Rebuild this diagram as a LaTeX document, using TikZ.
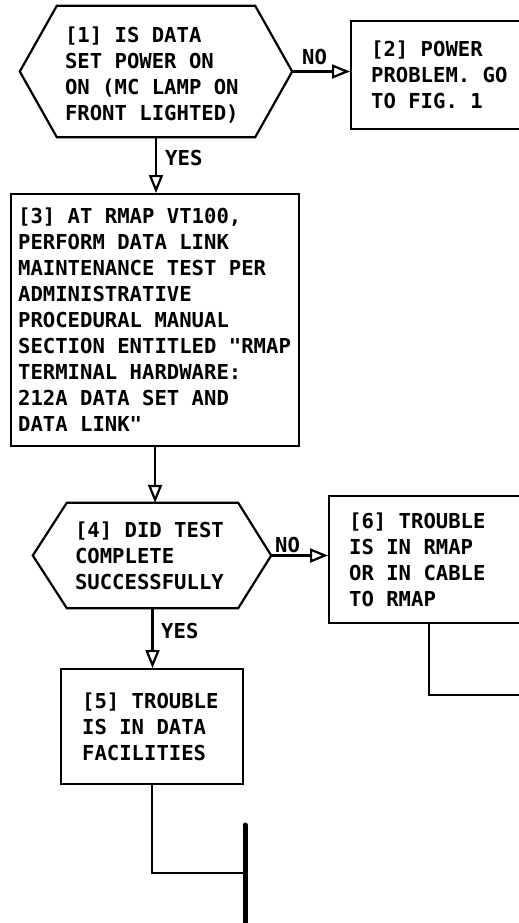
\documentclass[tikz,border=0pt]{standalone}
\usepackage{fontspec}
\newfontfamily\flowfont{DejaVu Sans Mono}
\newcommand{\chartfont}{\flowfont\bfseries\fontsize{20.6}{26}\selectfont}
\usetikzlibrary{positioning, arrows.meta, calc}

\begin{document}
\begin{tikzpicture}[x=1pt, y=-1pt,
    every node/.append style={execute at begin node={\spaceskip=0pt\xspaceskip=0pt}},
    decision/.style={rectangle, inner ysep=0pt, inner xsep=8pt, align=left, font=\chartfont},
    stepbox/.style={draw, rectangle, line width=2.2pt, inner ysep=0pt, align=left, font=\chartfont},
    answer/.style={font=\chartfont, inner sep=0pt, anchor=base west},
    flow/.style={line width=2.2pt, -{Triangle[open, length=18pt, width=14pt]}},
    wire/.style={line width=2.2pt}]

    % Page frame (boxes 2 and 6 run off the right edge)
    \useasboundingbox (0,0) rectangle (519,923);
    \clip (0,0) rectangle (519,923);

    % [1] Decision: data set power
    \node[decision, minimum width=198pt, minimum height=131pt, text width=182pt] (dataset) at (156,75)
        {[1] IS DATA\\SET POWER ON\\ON (MC LAMP ON\\FRONT LIGHTED)};
    \coordinate (datasetNW) at ([yshift=3.5pt]dataset.north west);
    \coordinate (datasetNE) at ([yshift=3.5pt]dataset.north east);
    \coordinate (datasetSW) at ([yshift=3.5pt]dataset.south west);
    \coordinate (datasetSE) at ([yshift=3.5pt]dataset.south east);
    \coordinate (datasetL) at ([xshift=-37pt, yshift=3.5pt]dataset.west);
    \coordinate (datasetR) at ([xshift=37pt, yshift=3.5pt]dataset.east);
    \draw[wire] (datasetNW) -- (datasetNE) -- (datasetR) -- (datasetSE)
        -- (datasetSW) -- (datasetL) -- cycle;

    % [2] Power problem
    \node[stepbox, anchor=north west, minimum width=200pt, minimum height=108pt, text width=160pt, inner xsep=20pt] (power) at (350,20)
        {[2] POWER\\PROBLEM. GO\\TO FIG. 1};
    \draw[flow] (datasetR) -- (datasetR -| power.west);
    \node[answer] (no1) at (302,65) {NO};

    % [3] Data link maintenance test
    \node[stepbox, anchor=north west, minimum width=288pt, minimum height=252pt, text width=274pt, inner xsep=7pt] (linktest) at (10,193)
        {[3] AT RMAP VT100,\\PERFORM DATA LINK\\MAINTENANCE TEST PER\\ADMINISTRATIVE\\PROCEDURAL MANUAL\\SECTION ENTITLED "RMAP\\TERMINAL HARDWARE:\\212A DATA SET AND\\DATA LINK"};
    \draw[flow] (datasetSW -| dataset.south) -- (dataset.south |- linktest.north);
    \node[answer] (yes1) at (165,165) {YES};

    % [4] Decision: test result
    \node[decision, minimum width=171pt, minimum height=105pt, text width=155pt] (testok) at (152.5,555.5)
        {[4] DID TEST\\COMPLETE\\SUCCESSFULLY};
    \coordinate (testokL) at ([xshift=-34pt]testok.west);
    \coordinate (testokR) at ([xshift=33pt]testok.east);
    \draw[wire] (testok.north west) -- (testok.north east) -- (testokR) -- (testok.south east)
        -- (testok.south west) -- (testokL) -- cycle;
    \draw[flow] (linktest.south) -- (linktest.south |- testok.north);

    % [6] Trouble in RMAP
    \node[stepbox, anchor=north west, minimum width=200pt, minimum height=127pt, text width=160pt, inner xsep=20pt] (rmap) at (328,495)
        {[6] TROUBLE\\IS IN RMAP\\OR IN CABLE\\TO RMAP};
    \draw[flow] (testokR) -- (testokR -| rmap.west);
    \node[answer] (no4) at (275,552) {NO};

    % [5] Trouble in data facilities
    \node[stepbox, anchor=north west, minimum width=182pt, minimum height=115pt, text width=140pt, inner xsep=21pt] (facil) at (60,668)
        {[5] TROUBLE\\IS IN DATA\\FACILITIES};
    \draw[flow] (testok.south) -- (testok.south |- facil.north);
    \node[answer] (yes4) at (161,638) {YES};

    % Leads to the rest of the chart
    \coordinate (rmapout) at (540,695);
    \draw[wire] (rmap.south) |- (rmapout);
    \coordinate (bustop) at (245,825);
    \coordinate (busjoin) at (245,873);
    \coordinate (busbot) at (245,935);
    \draw[line width=5pt, line cap=round] (bustop) -- (busbot);
    \draw[wire] (facil.south) |- (busjoin);
\end{tikzpicture}
\end{document}
